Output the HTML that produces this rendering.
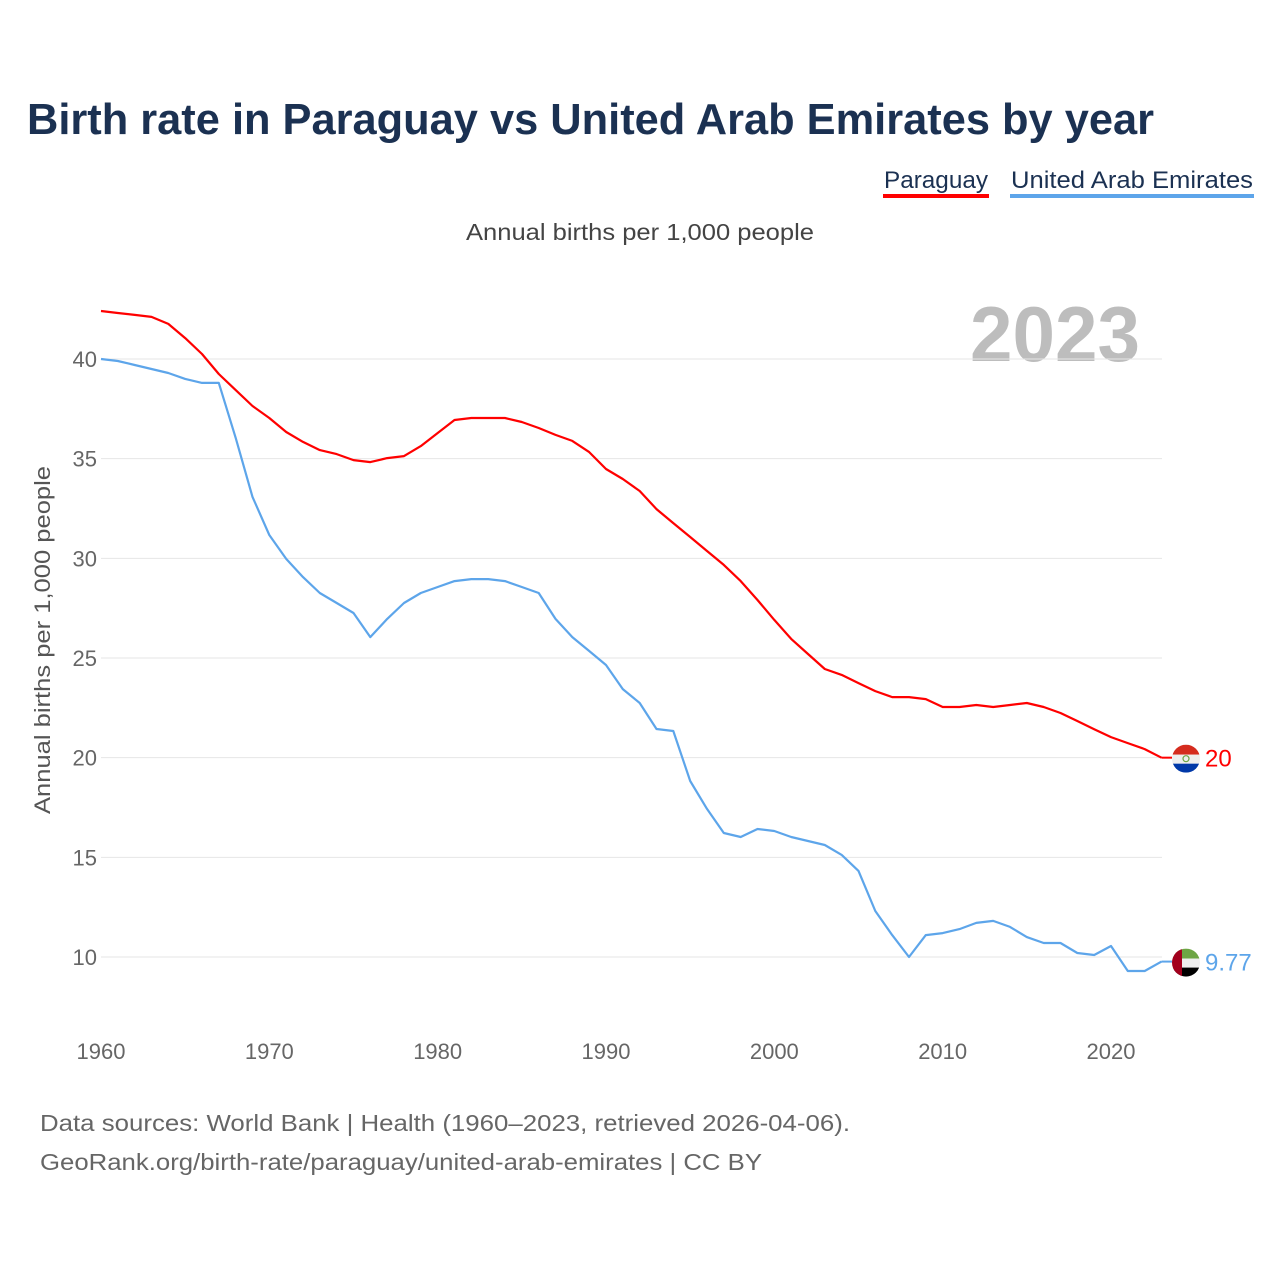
<!DOCTYPE html>
<html><head><meta charset="utf-8"><style>
html,body{margin:0;padding:0;background:#fff;}
svg{display:block;font-family:"Liberation Sans",sans-serif;}
</style></head><body>
<svg id="chart" width="1280" height="1280" viewBox="0 0 1280 1280">
<text x="27" y="134" font-size="44" font-weight="bold" fill="#1b3152" textLength="1127" lengthAdjust="spacingAndGlyphs">Birth rate in Paraguay vs United Arab Emirates by year</text>
<g>
<text x="884" y="188" font-size="24" fill="#1b3152" textLength="104" lengthAdjust="spacingAndGlyphs">Paraguay</text>
<rect x="883" y="194" width="106" height="4" fill="#ff0000"/>
<text x="1011" y="188" font-size="24" fill="#1b3152" textLength="242" lengthAdjust="spacingAndGlyphs">United Arab Emirates</text>
<rect x="1010" y="194" width="244" height="4" fill="#5da5ea"/>
</g>
<text x="640" y="240" font-size="23" fill="#444" text-anchor="middle" textLength="348" lengthAdjust="spacingAndGlyphs">Annual births per 1,000 people</text>
<text x="970" y="361" font-size="78" font-weight="bold" fill="#bdbdbd" textLength="170" lengthAdjust="spacingAndGlyphs">2023</text>
<text transform="translate(50,640) rotate(-90)" font-size="22" fill="#555" text-anchor="middle" textLength="348" lengthAdjust="spacingAndGlyphs">Annual births per 1,000 people</text>
<g id="grid"></g><g id="xt"></g><g id="lines"></g><g id="ends"></g>
<text x="40" y="1131" font-size="23" fill="#666" textLength="810" lengthAdjust="spacingAndGlyphs">Data sources: World Bank | Health (1960–2023, retrieved 2026-04-06).</text>
<text x="40" y="1170" font-size="23" fill="#666" textLength="722" lengthAdjust="spacingAndGlyphs">GeoRank.org/birth-rate/paraguay/united-arab-emirates | CC BY</text>
</svg>
<script>
const years=[];for(let y=1960;y<=2023;y++)years.push(y);
const paraguay=[42.41,42.31,42.21,42.11,41.76,41.05,40.25,39.25,38.44,37.64,37.04,36.34,35.84,35.43,35.23,34.93,34.83,35.03,35.13,35.63,36.29,36.94,37.04,37.04,37.04,36.84,36.54,36.19,35.89,35.33,34.48,33.98,33.38,32.47,31.77,31.07,30.37,29.67,28.86,27.91,26.91,25.96,25.2,24.45,24.15,23.74,23.34,23.04,23.04,22.94,22.54,22.54,22.64,22.54,22.64,22.74,22.54,22.24,21.84,21.43,21.03,20.73,20.43,20.0];
const uae=[40,39.9,39.7,39.5,39.3,39.0,38.8,38.8,36.04,33.08,31.17,29.97,29.06,28.26,27.76,27.26,26.05,26.96,27.76,28.26,28.56,28.86,28.96,28.96,28.86,28.56,28.26,26.96,26.05,25.35,24.65,23.44,22.74,21.44,21.34,18.83,17.43,16.22,16.02,16.42,16.32,16.02,15.82,15.62,15.12,14.32,12.31,11.1,10.0,11.1,11.2,11.4,11.71,11.81,11.51,11.0,10.7,10.7,10.2,10.1,10.55,9.3,9.3,9.77];
const yTicks=[10,15,20,25,30,35,40];
const xTicks=[1960,1970,1980,1990,2000,2010,2020];
const NS='http://www.w3.org/2000/svg';
const X=v=>101+(v-1960)*(1010/60);
const Y=v=>957-(v-10)*(598/30);
function mk(tag,attrs,parent){const e=document.createElementNS(NS,tag);for(const k in attrs)e.setAttribute(k,attrs[k]);parent.appendChild(e);return e;}
const grid=document.getElementById('grid');
yTicks.forEach(t=>{
 const l=mk('line',{x1:101,x2:1162,y1:Y(t),y2:Y(t),stroke:'#e6e6e6','stroke-width':1},grid);
 
 
 const tx=mk('text',{x:97,y:Y(t)+8,'font-size':22,fill:'#666','text-anchor':'end'},grid);
 tx.textContent=t;
 
 
});
const xt=document.getElementById('xt');
xTicks.forEach(t=>{
 const tx=mk('text',{x:X(t),y:1059,'font-size':22,fill:'#666','text-anchor':'middle'},xt);
 tx.textContent=t;
 
 
});
const lines=document.getElementById('lines');
function path(vals,color,name){
 const d=vals.map((v,i)=>(i?'L':'M')+X(years[i]).toFixed(1)+','+Y(v).toFixed(1)).join('');
 const p=mk('path',{d:d,fill:'none',stroke:color,'stroke-width':2.2,'stroke-linejoin':'round'},lines);
 
 
}
path(paraguay,'#ff0000','line-paraguay');
path(uae,'#5da5ea','line-uae');
const ends=document.getElementById('ends');
function flag(val,isPy,color,label,name){
 const cx=1186,cy=Y(val)+1;
 const g=mk('g',{},ends);
 
 
 mk('line',{x1:X(2023),x2:cx-14,y1:Y(val),y2:Y(val),stroke:color,'stroke-width':2},g);
 const cid='c'+name;
 const cp=mk('clipPath',{id:cid},g);mk('circle',{cx:cx,cy:cy,r:14},cp);
 const f=mk('g',{'clip-path':'url(#'+cid+')'},g);
 if(isPy){
  mk('rect',{x:cx-14,y:cy-14,width:28,height:10,fill:'#d52b1e'},f);
  mk('rect',{x:cx-14,y:cy-4,width:28,height:9,fill:'#eeeeee'},f);
  mk('rect',{x:cx-14,y:cy+5,width:28,height:9,fill:'#0038a8'},f);
  mk('circle',{cx:cx,cy:cy,r:3,fill:'none',stroke:'#6da544','stroke-width':1.2},f);
 }else{
  mk('rect',{x:cx-14,y:cy-14,width:28,height:10,fill:'#6da544'},f);
  mk('rect',{x:cx-14,y:cy-4,width:28,height:9,fill:'#eeeeee'},f);
  mk('rect',{x:cx-14,y:cy+5,width:28,height:9,fill:'#000'},f);
  mk('rect',{x:cx-14,y:cy-14,width:10,height:28,fill:'#a2001d'},f);
 }
 const t=mk('text',{x:1205,y:Y(val)+9,'font-size':24,fill:color},g);
 t.textContent=label;
}
flag(paraguay[paraguay.length-1],true,'#ff0000','20','end-label-paraguay');
flag(uae[uae.length-1],false,'#5da5ea','9.77','end-label-uae');
</script>
</body></html>
